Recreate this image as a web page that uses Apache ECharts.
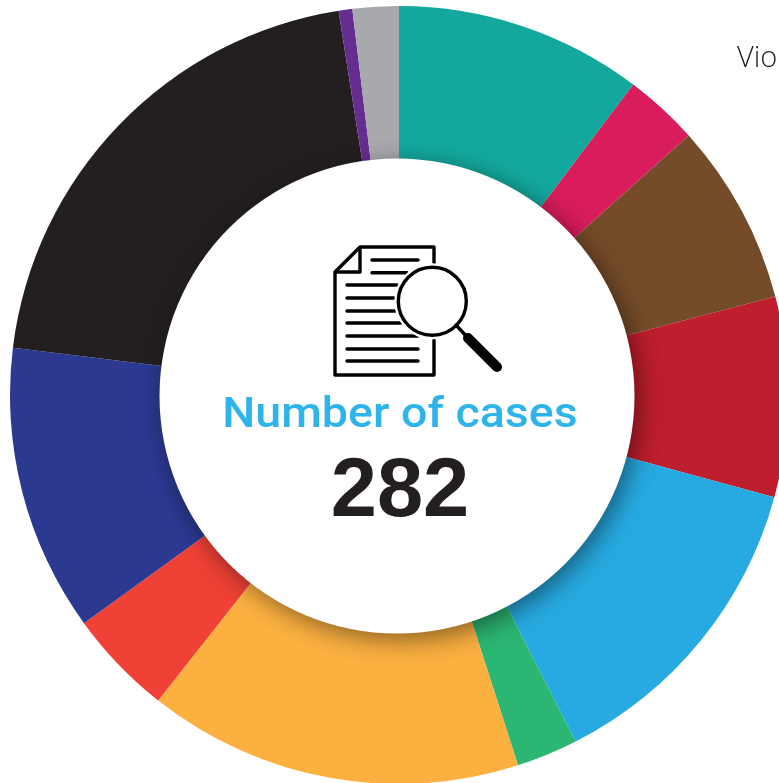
<!DOCTYPE html>
<html><head><meta charset="utf-8">
<style>html,body{margin:0;padding:0;background:#fff;overflow:hidden}#c{width:779px;height:783px}</style>
<script src="https://cdn.jsdelivr.net/npm/echarts@6/dist/echarts.min.js"></script>
</head><body><div id="c"></div>
<script>
const caseCounts = [29, 8.7, 21.3, 23.4, 37.4, 7.2, 43.9, 12.4, 33.6, 58, 1.6, 5.4];
const sliceColors = ['#13a89e','#d91c5c','#754c29','#be1e2d','#27aae1','#2bb673','#fbb040','#ef4136','#2b3990','#231f20','#662d91','#a7a9ac'];
const centerTitle = 'Number of cases';
const centerTotal = '282';
const clippedLabel = 'Vio';
const cx = 399, cy = 395;

const chart = echarts.init(document.getElementById('c'), null, {renderer:'canvas'});
const line = (x1,y1,x2,y2,w) => ({type:'line',shape:{x1,y1,x2,y2},style:{stroke:'#000',lineWidth:w||3.4,lineCap:'round'},z:20});
const docLines = [[372,260,418],[372,272.7,407],[347,285,397],[347,298,394],[347,311,395],[347,323,401],[347,336,418],[347,349,418],[347,361,418]];
chart.setOption({
  animation:false,
  series:[
    {type:'pie',center:[cx,cy],radius:[0,389],startAngle:90,clockwise:true,silent:true,z:1,
     label:{show:false},labelLine:{show:false},
     itemStyle:{borderWidth:0},
     data:caseCounts.map((v,i)=>({value:v,itemStyle:{color:sliceColors[i]}}))}
  ],
  graphic:[
    {type:'circle',shape:{cx:397,cy:396,r:237.5},z:10,style:{fill:'#fff',shadowBlur:24,shadowColor:'rgba(0,0,0,0.45)',shadowOffsetX:5,shadowOffsetY:6}},
    {type:'text',x:737,y:44,z:20,style:{text:clippedLabel,font:'300 29px "Open Sans"',fill:'#231f20'}},
    {type:'text',x:400,y:416.5,scaleX:1.083,z:20,style:{text:centerTitle,font:'500 43px Roboto',fill:'#2eb4ea',align:'center',verticalAlign:'middle'}},
    {type:'text',x:400,y:493,z:20,style:{text:centerTotal,font:'700 83px "Liberation Sans"',fill:'#231f20',align:'center',verticalAlign:'middle'}},
    {type:'polyline',shape:{points:[[434,263],[434,247],[360,247],[335,272],[335,375],[434,375],[434,340]]},z:20,style:{fill:null,stroke:'#000',lineWidth:3.4,lineJoin:'round',lineCap:'round'}},
    {type:'polyline',shape:{points:[[360,247],[360,272],[335,272]]},z:20,style:{fill:null,stroke:'#000',lineWidth:3.4,lineJoin:'round'}},
    ...docLines.map(l=>line(l[0],l[1],l[2],l[1],3.4)),
    {type:'circle',shape:{cx:432.3,cy:301.3,r:34},z:21,style:{fill:'#fff',stroke:'#fff',lineWidth:8}},
    {type:'circle',shape:{cx:432.3,cy:301.3,r:34},z:22,style:{fill:'#fff',stroke:'#000',lineWidth:3.4}},
    {...line(456,325,468,338,3.4),z:22},
    {...line(468,338,497,367,10),z:22}
  ]
});
</script></body></html>
